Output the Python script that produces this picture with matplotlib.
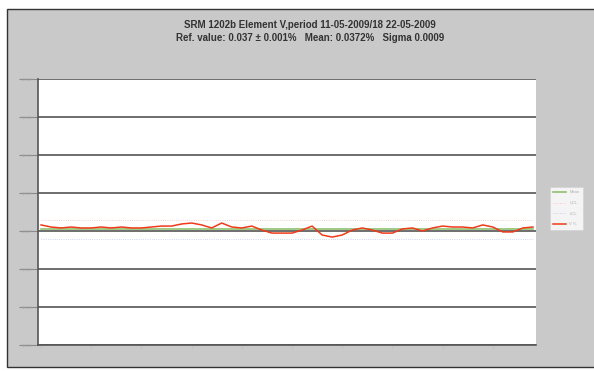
import matplotlib
matplotlib.use("Agg")
import matplotlib.pyplot as plt
from matplotlib.patches import Rectangle

# Measured V content (%) per sample, in run order
v_values = [0.03732, 0.03721, 0.03716, 0.03721, 0.03716, 0.03716, 0.03721, 0.03716,
            0.03721, 0.03716, 0.03716, 0.03721, 0.03726, 0.03726, 0.03737, 0.03742,
            0.03732, 0.03716, 0.03742, 0.03721, 0.03716, 0.03726, 0.03705, 0.03689,
            0.03689, 0.03689, 0.03705, 0.03726, 0.03679, 0.03668, 0.03679, 0.03705,
            0.03716, 0.03705, 0.03689, 0.03689, 0.03711, 0.03716, 0.03700, 0.03716,
            0.03726, 0.03721, 0.03721, 0.03716, 0.03732, 0.03721, 0.03695, 0.03695,
            0.03716, 0.03721]
mean_value = 0.0371
ref_value = 0.037
upper_limit = 0.0376
lower_limit = 0.0366
y_ticks = [0.031, 0.033, 0.035, 0.037, 0.039, 0.041, 0.043, 0.045]
y_tick_labels = ["0,031", "0,033", "0,035", "0,037", "0,039", "0,041", "0,043", "0,045"]
series_names = ["Mean", "UCL", "LCL", "V %"]
title_lines = ["SRM 1202b Element V,period 11-05-2009/18 22-05-2009",
               "Ref. value: 0.037 \u00b1 0.001%   Mean: 0.0372%   Sigma 0.0009"]

plt.rcParams["font.family"] = ["Liberation Sans", "DejaVu Sans"]

fig = plt.figure(figsize=(5.94, 3.71), dpi=100)
fig.patch.set_facecolor("white")

# grey chart panel with dark frame
fig.patches.append(Rectangle((7 / 594, 0.01), 1.0, 1 - 9 / 371 - 0.01,
                             transform=fig.transFigure, facecolor="#c9c9c9",
                             edgecolor="#333333", linewidth=1.0, zorder=-5))

ax = fig.add_axes([38 / 594, 1 - 345 / 371, (536 - 38) / 594, (345 - 79) / 371])
ax.set_zorder(2)
ax.set_facecolor("white")

x = list(range(len(v_values)))
ax.plot(x, [upper_limit] * len(x), color="#f4c0c0", lw=0.6, ls=":", zorder=2)
ax.plot(x, [lower_limit] * len(x), color="#c0c8f0", lw=0.6, ls=":", zorder=2)
ax.plot(x, [mean_value] * len(x), color="#8fc070", lw=1.2, zorder=3)
ax.plot(x, v_values, color="#f03a1a", lw=1.1, zorder=4)

ax.set_xlim(-0.3, len(x) - 0.7)
ax.set_ylim(y_ticks[0], y_ticks[-1])
ax.set_yticks(y_ticks)
ax.set_yticklabels(y_tick_labels, fontsize=3, color="#a8a8a8")
ax.yaxis.grid(True, color="#555555", lw=1.2)
ax.set_axisbelow(True)
ax.tick_params(axis="y", length=14, width=0.8, color="#8a8a8a", pad=-10)
ax.set_xticks(x[::5])
ax.set_xticklabels([])
ax.tick_params(axis="x", length=2, color="#c0c0c0")
for side in ["top", "right"]:
    ax.spines[side].set_visible(False)
ax.spines["left"].set_color("#555555")
ax.spines["left"].set_linewidth(1.2)
ax.spines["bottom"].set_color("#555555")
ax.spines["bottom"].set_linewidth(1.2)

fig.text(0.522, 0.933, title_lines[0], ha="center", va="center", fontsize=7.0,
         color="#333333", fontweight="bold")
fig.text(0.522, 0.898, title_lines[1], ha="center", va="center", fontsize=7.0,
         color="#333333", fontweight="bold")

handles = ax.get_lines()
order = [2, 0, 1, 3]
leg = fig.legend([handles[i] for i in order], series_names, loc="upper left",
                 bbox_to_anchor=(548 / 594, 1 - 185 / 371), fontsize=3,
                 frameon=True, fancybox=False, handlelength=3, labelspacing=1.6,
                 borderpad=0.8, labelcolor="#b0b0b0")
leg.get_frame().set_facecolor("white")
leg.get_frame().set_edgecolor("#d0d0d0")
leg.get_frame().set_linewidth(0.5)

fig.savefig("out.png", dpi=100)
